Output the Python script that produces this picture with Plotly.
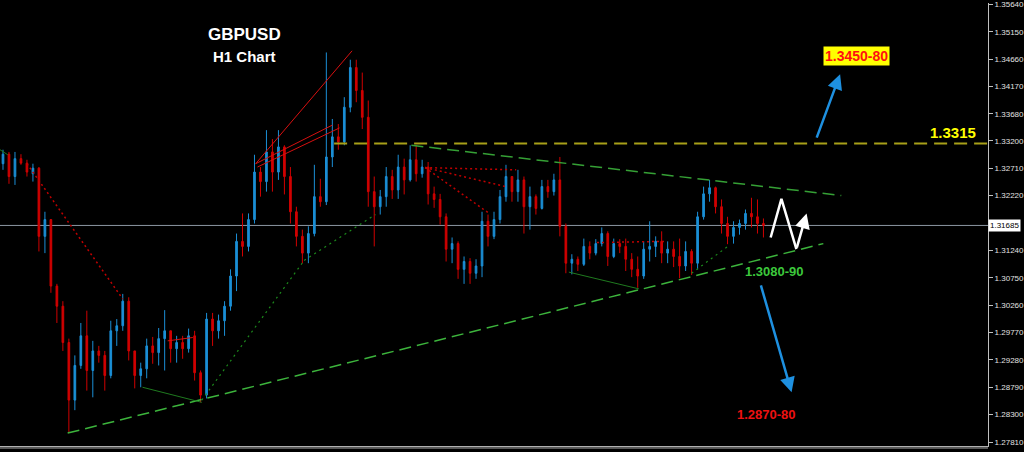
import plotly.graph_objects as go

# ---------------- data (GBPUSD H1) ----------------
open_ = [1.3279, 1.3296, 1.3256, 1.3288, 1.3280, 1.3261, 1.3271, 1.3149, 1.3179, 1.3060,
         1.3024, 1.2959, 1.2856, 1.2918, 1.2971, 1.2909, 1.2944, 1.2936, 1.2900, 1.2980,
         1.2989, 1.3033, 1.2944, 1.2900, 1.2912, 1.2953, 1.2941, 1.2966, 1.2980, 1.2948,
         1.2959, 1.2948, 1.2971, 1.2905, 1.2865, 1.3001, 1.2980, 1.2998, 1.3024, 1.3078,
         1.3140, 1.3131, 1.3179, 1.3264, 1.3247, 1.3300, 1.3264, 1.3309, 1.3256, 1.3193,
         1.3149, 1.3119, 1.3154, 1.3220, 1.3211, 1.3291, 1.3327, 1.3318, 1.3380, 1.3451,
         1.3410, 1.3362, 1.3229, 1.3202, 1.3220, 1.3256, 1.3232, 1.3273, 1.3250, 1.3286,
         1.3261, 1.3273, 1.3225, 1.3215, 1.3184, 1.3126, 1.3136, 1.3090, 1.3104, 1.3083,
         1.3096, 1.3176, 1.3149, 1.3179, 1.3220, 1.3256, 1.3229, 1.3250, 1.3202, 1.3220,
         1.3199, 1.3238, 1.3229, 1.3250, 1.3167, 1.3101, 1.3108, 1.3099, 1.3131, 1.3119,
         1.3136, 1.3154, 1.3113, 1.3136, 1.3131, 1.3108, 1.3090, 1.3078, 1.3126, 1.3131,
         1.3140, 1.3119, 1.3126, 1.3113, 1.3096, 1.3122, 1.3101, 1.3184, 1.3225, 1.3236,
         1.3202, 1.3172, 1.3149, 1.3165, 1.3172, 1.3190, 1.3184, 1.3172]
high = [1.3304, 1.3300, 1.3300, 1.3296, 1.3286, 1.3279, 1.3273, 1.3193, 1.3179, 1.3064,
        1.3033, 1.2966, 1.2936, 1.2994, 1.3016, 1.2962, 1.2953, 1.2944, 1.2998, 1.3001,
        1.3046, 1.3040, 1.2944, 1.2923, 1.2966, 1.2969, 1.2985, 1.3017, 1.2980, 1.2971,
        1.2971, 1.2984, 1.2980, 1.2909, 1.3012, 1.3012, 1.3009, 1.3033, 1.3090, 1.3154,
        1.3190, 1.3190, 1.3295, 1.3273, 1.3339, 1.3323, 1.3339, 1.3312, 1.3273, 1.3202,
        1.3161, 1.3167, 1.3277, 1.3252, 1.3478, 1.3359, 1.3350, 1.3398, 1.3465, 1.3465,
        1.3442, 1.3392, 1.3256, 1.3232, 1.3273, 1.3268, 1.3295, 1.3288, 1.3312, 1.3312,
        1.3286, 1.3282, 1.3238, 1.3225, 1.3190, 1.3147, 1.3140, 1.3113, 1.3110, 1.3108,
        1.3193, 1.3188, 1.3193, 1.3232, 1.3277, 1.3256, 1.3268, 1.3256, 1.3238, 1.3224,
        1.3250, 1.3250, 1.3261, 1.3291, 1.3172, 1.3117, 1.3113, 1.3145, 1.3140, 1.3144,
        1.3165, 1.3158, 1.3145, 1.3144, 1.3145, 1.3119, 1.3113, 1.3140, 1.3176, 1.3149,
        1.3158, 1.3140, 1.3140, 1.3145, 1.3140, 1.3126, 1.3193, 1.3238, 1.3250, 1.3238,
        1.3215, 1.3184, 1.3176, 1.3179, 1.3197, 1.3218, 1.3215, 1.3181]
low = [1.3268, 1.3243, 1.3241, 1.3277, 1.3256, 1.3247, 1.3122, 1.3119, 1.3048, 1.2994,
       1.2944, 1.2799, 1.2838, 1.2912, 1.2873, 1.2861, 1.2923, 1.2873, 1.2895, 1.2953,
       1.2980, 1.2927, 1.2877, 1.2879, 1.2895, 1.2921, 1.2918, 1.2909, 1.2923, 1.2923,
       1.2930, 1.2941, 1.2891, 1.2852, 1.2859, 1.2953, 1.2966, 1.2971, 1.3016, 1.3051,
       1.3113, 1.3122, 1.3172, 1.3220, 1.3229, 1.3229, 1.3250, 1.3224, 1.3172, 1.3131,
       1.3101, 1.3101, 1.3149, 1.3202, 1.3205, 1.3273, 1.3304, 1.3312, 1.3371, 1.3389,
       1.3341, 1.3202, 1.3131, 1.3188, 1.3202, 1.3216, 1.3216, 1.3224, 1.3247, 1.3247,
       1.3254, 1.3206, 1.3200, 1.3170, 1.3104, 1.3101, 1.3073, 1.3064, 1.3064, 1.3073,
       1.3076, 1.3131, 1.3144, 1.3172, 1.3211, 1.3211, 1.3211, 1.3154, 1.3161, 1.3188,
       1.3197, 1.3218, 1.3222, 1.3149, 1.3083, 1.3081, 1.3087, 1.3096, 1.3108, 1.3115,
       1.3131, 1.3096, 1.3110, 1.3119, 1.3087, 1.3076, 1.3057, 1.3073, 1.3104, 1.3112,
       1.3101, 1.3101, 1.3094, 1.3074, 1.3087, 1.3080, 1.3090, 1.3179, 1.3211, 1.3190,
       1.3154, 1.3135, 1.3136, 1.3152, 1.3161, 1.3165, 1.3154, 1.3147]
close = [1.3296, 1.3256, 1.3288, 1.3280, 1.3264, 1.3271, 1.3149, 1.3179, 1.3060, 1.3024,
         1.2959, 1.2856, 1.2918, 1.2971, 1.2909, 1.2944, 1.2936, 1.2900, 1.2980, 1.2989,
         1.3033, 1.2944, 1.2900, 1.2912, 1.2953, 1.2941, 1.2966, 1.2980, 1.2948, 1.2959,
         1.2948, 1.2971, 1.2905, 1.2865, 1.3001, 1.2980, 1.2998, 1.3024, 1.3078, 1.3140,
         1.3131, 1.3179, 1.3264, 1.3247, 1.3300, 1.3264, 1.3309, 1.3256, 1.3193, 1.3149,
         1.3119, 1.3154, 1.3220, 1.3211, 1.3291, 1.3327, 1.3318, 1.3380, 1.3451, 1.3410,
         1.3362, 1.3229, 1.3202, 1.3220, 1.3256, 1.3232, 1.3273, 1.3250, 1.3286, 1.3261,
         1.3273, 1.3225, 1.3215, 1.3184, 1.3126, 1.3136, 1.3090, 1.3104, 1.3083, 1.3096,
         1.3176, 1.3149, 1.3179, 1.3220, 1.3256, 1.3229, 1.3250, 1.3202, 1.3220, 1.3199,
         1.3238, 1.3229, 1.3250, 1.3167, 1.3101, 1.3108, 1.3099, 1.3131, 1.3119, 1.3136,
         1.3154, 1.3113, 1.3136, 1.3131, 1.3108, 1.3090, 1.3078, 1.3126, 1.3131, 1.3140,
         1.3119, 1.3126, 1.3113, 1.3096, 1.3122, 1.3101, 1.3184, 1.3225, 1.3236, 1.3202,
         1.3172, 1.3149, 1.3165, 1.3172, 1.3190, 1.3184, 1.3172, 1.31685]
bar_index = list(range(len(close)))

y_ticks = [1.35640, 1.35150, 1.34660, 1.34170, 1.33680, 1.33200, 1.32710, 1.32220,
           1.31240, 1.30750, 1.30260, 1.29770, 1.29280, 1.28790, 1.28300, 1.27810]
current_price = 1.31685
resistance_level = 1.3315

# trend / pattern lines as (bar index, price) pairs
upper_trend = [(68.2, 1.3312), (140.0, 1.3222)]
lower_trend = [(10.8, 1.2797), (137.0, 1.3136)]
green_solid = [[(-0.5, 1.3304), (0.8, 1.3295)],
               [(23.3, 1.2879), (33.2, 1.2852)],
               [(94.5, 1.3085), (106.2, 1.3055)]]
green_dotted = [[(33.2, 1.2856), (50.3, 1.3106), (62.2, 1.3188)],
                [(115.0, 1.3083), (121.3, 1.3133)]]
red_dotted = [[(4.0, 1.3279), (20.0, 1.3037)],
              [(70.5, 1.3272), (85.7, 1.3268)],
              [(70.5, 1.3272), (84.0, 1.3238)],
              [(70.5, 1.3272), (81.2, 1.3190)],
              [(99.2, 1.3138), (110.8, 1.3140)]]
red_solid = [[(42.2, 1.3279), (58.3, 1.3481)],
             [(42.2, 1.3279), (55.0, 1.3348)],
             [(42.5, 1.3273), (56.2, 1.3343)],
             [(27.5, 1.2962), (31.7, 1.2968)]]
zigzag = [(128.2, 1.3147), (130.0, 1.3216), (132.5, 1.3126)]
zigzag_arrow_tip = (134.2, 1.3190)
arrow_up = [(135.8, 1.3323), (139.8, 1.3439)]
arrow_down = [(126.5, 1.3064), (131.7, 1.2870)]

# ---------------- figure ----------------
BLUE = '#1b8fd6'
RED = '#d00000'

fig = go.Figure()
fig.add_trace(go.Candlestick(
    x=bar_index, open=open_, high=high, low=low, close=close,
    increasing=dict(line=dict(color=BLUE, width=1), fillcolor=BLUE),
    decreasing=dict(line=dict(color=RED, width=1), fillcolor=RED),
    whiskerwidth=0, hoverinfo='skip', showlegend=False))


def seg(points, color, width, dash='solid'):
    for (xa, ya), (xb, yb) in zip(points[:-1], points[1:]):
        fig.add_shape(type='line', x0=xa, y0=ya, x1=xb, y1=yb, xref='x', yref='y',
                      line=dict(color=color, width=width, dash=dash), layer='above')


# current price line
fig.add_shape(type='line', xref='paper', x0=0, x1=1, yref='y', y0=current_price, y1=current_price,
              line=dict(color='#8c96a2', width=1), layer='below')
# resistance
fig.add_shape(type='line', xref='x', x0=55.3, x1=164.5, yref='y', y0=resistance_level,
              y1=resistance_level, line=dict(color='#a8a018', width=2, dash='13px,7px'))

seg(upper_trend, '#35a035', 1.5, '12px,6px')
seg(lower_trend, '#3cb43c', 1.5, '12px,6px')
for s in green_solid:
    seg(s, '#1f7a1f', 1)
for s in green_dotted:
    seg(s, '#1c8a1c', 1.2, '2px,4px')
for s in red_dotted:
    seg(s, '#c00000', 1.5, '2px,3px')
for s in red_solid:
    seg(s, '#d81010', 1)

# white zigzag + arrow
fig.add_trace(go.Scatter(x=[p[0] for p in zigzag], y=[p[1] for p in zigzag], mode='lines',
                         line=dict(color='white', width=2.5), hoverinfo='skip', showlegend=False))
fig.add_annotation(x=zigzag_arrow_tip[0], y=zigzag_arrow_tip[1], ax=zigzag[-1][0], ay=zigzag[-1][1],
                   axref='x', ayref='y', xref='x', yref='y', text='', showarrow=True,
                   arrowhead=2, arrowsize=1.2, arrowwidth=2.5, arrowcolor='white')
# blue arrows
for a in (arrow_up, arrow_down):
    fig.add_annotation(x=a[1][0], y=a[1][1], ax=a[0][0], ay=a[0][1], axref='x', ayref='y',
                       xref='x', yref='y', text='', showarrow=True, arrowhead=2, arrowsize=1.2,
                       arrowwidth=2.5, arrowcolor='#1e90e0')

# texts
BF = 'Liberation Sans, Arial, sans-serif'
fig.add_annotation(x=40.3, y=1.3511, text='<b>GBPUSD</b>', showarrow=False,
                   font=dict(family=BF, size=17, color='white'))
fig.add_annotation(x=40.3, y=1.3471, text='<b>H1 Chart</b>', showarrow=False,
                   font=dict(family=BF, size=15, color='white'))
fig.add_annotation(x=142.5, y=1.3471, text='<b>1.3450-80</b>', showarrow=False,
                   font=dict(family=BF, size=14, color='#ff1010'), bgcolor='#ffff00', borderpad=1)
fig.add_annotation(x=128.8, y=1.3087, text='<b>1.3080-90</b>', showarrow=False,
                   font=dict(family=BF, size=13, color='#3cc83c'))
fig.add_annotation(x=127.5, y=1.2831, text='<b>1.2870-80</b>', showarrow=False,
                   font=dict(family=BF, size=13, color='#ee1111'))
fig.add_annotation(x=158.7, y=1.3334, text='<b>1.3315</b>', showarrow=False,
                   font=dict(family=BF, size=15, color='#ffff00'))
# current price box
fig.add_annotation(xref='paper', x=1.0, xanchor='left', y=current_price, yref='y',
                   text='%.5f' % current_price, showarrow=False, bgcolor='white',
                   font=dict(family=BF, size=8, color='black'), borderpad=1)

# bottom double line
fig.add_shape(type='line', xref='paper', x0=0, x1=1, yref='paper', y0=-0.0045, y1=-0.0045,
              line=dict(color='#b0b0b0', width=1))

fig.update_layout(
    width=1024, height=452,
    margin=dict(l=0, r=34, t=0, b=6),
    paper_bgcolor='black', plot_bgcolor='black',
    showlegend=False,
    boxgap=0.6,
    xaxis=dict(range=[-0.5, 164.5], showgrid=False, zeroline=False, showticklabels=False,
               rangeslider=dict(visible=False), showline=True, linecolor='#b0b0b0',
               linewidth=1, ticks=''),
    yaxis=dict(range=[1.27739, 1.35665], side='right', showgrid=False, zeroline=False,
               tickvals=y_ticks, ticktext=['%.5f' % v for v in y_ticks],
               ticks='outside', ticklen=4, tickcolor='#c0c0c0', ticklabeloverflow='allow',
               tickfont=dict(family=BF, size=8, color='#e0e0e0'),
               showline=True, linecolor='#c0c0c0', linewidth=1),
)

fig.write_html("out.html", config={'displayModeBar': False},
               post_script="document.body.style.margin='0';")
